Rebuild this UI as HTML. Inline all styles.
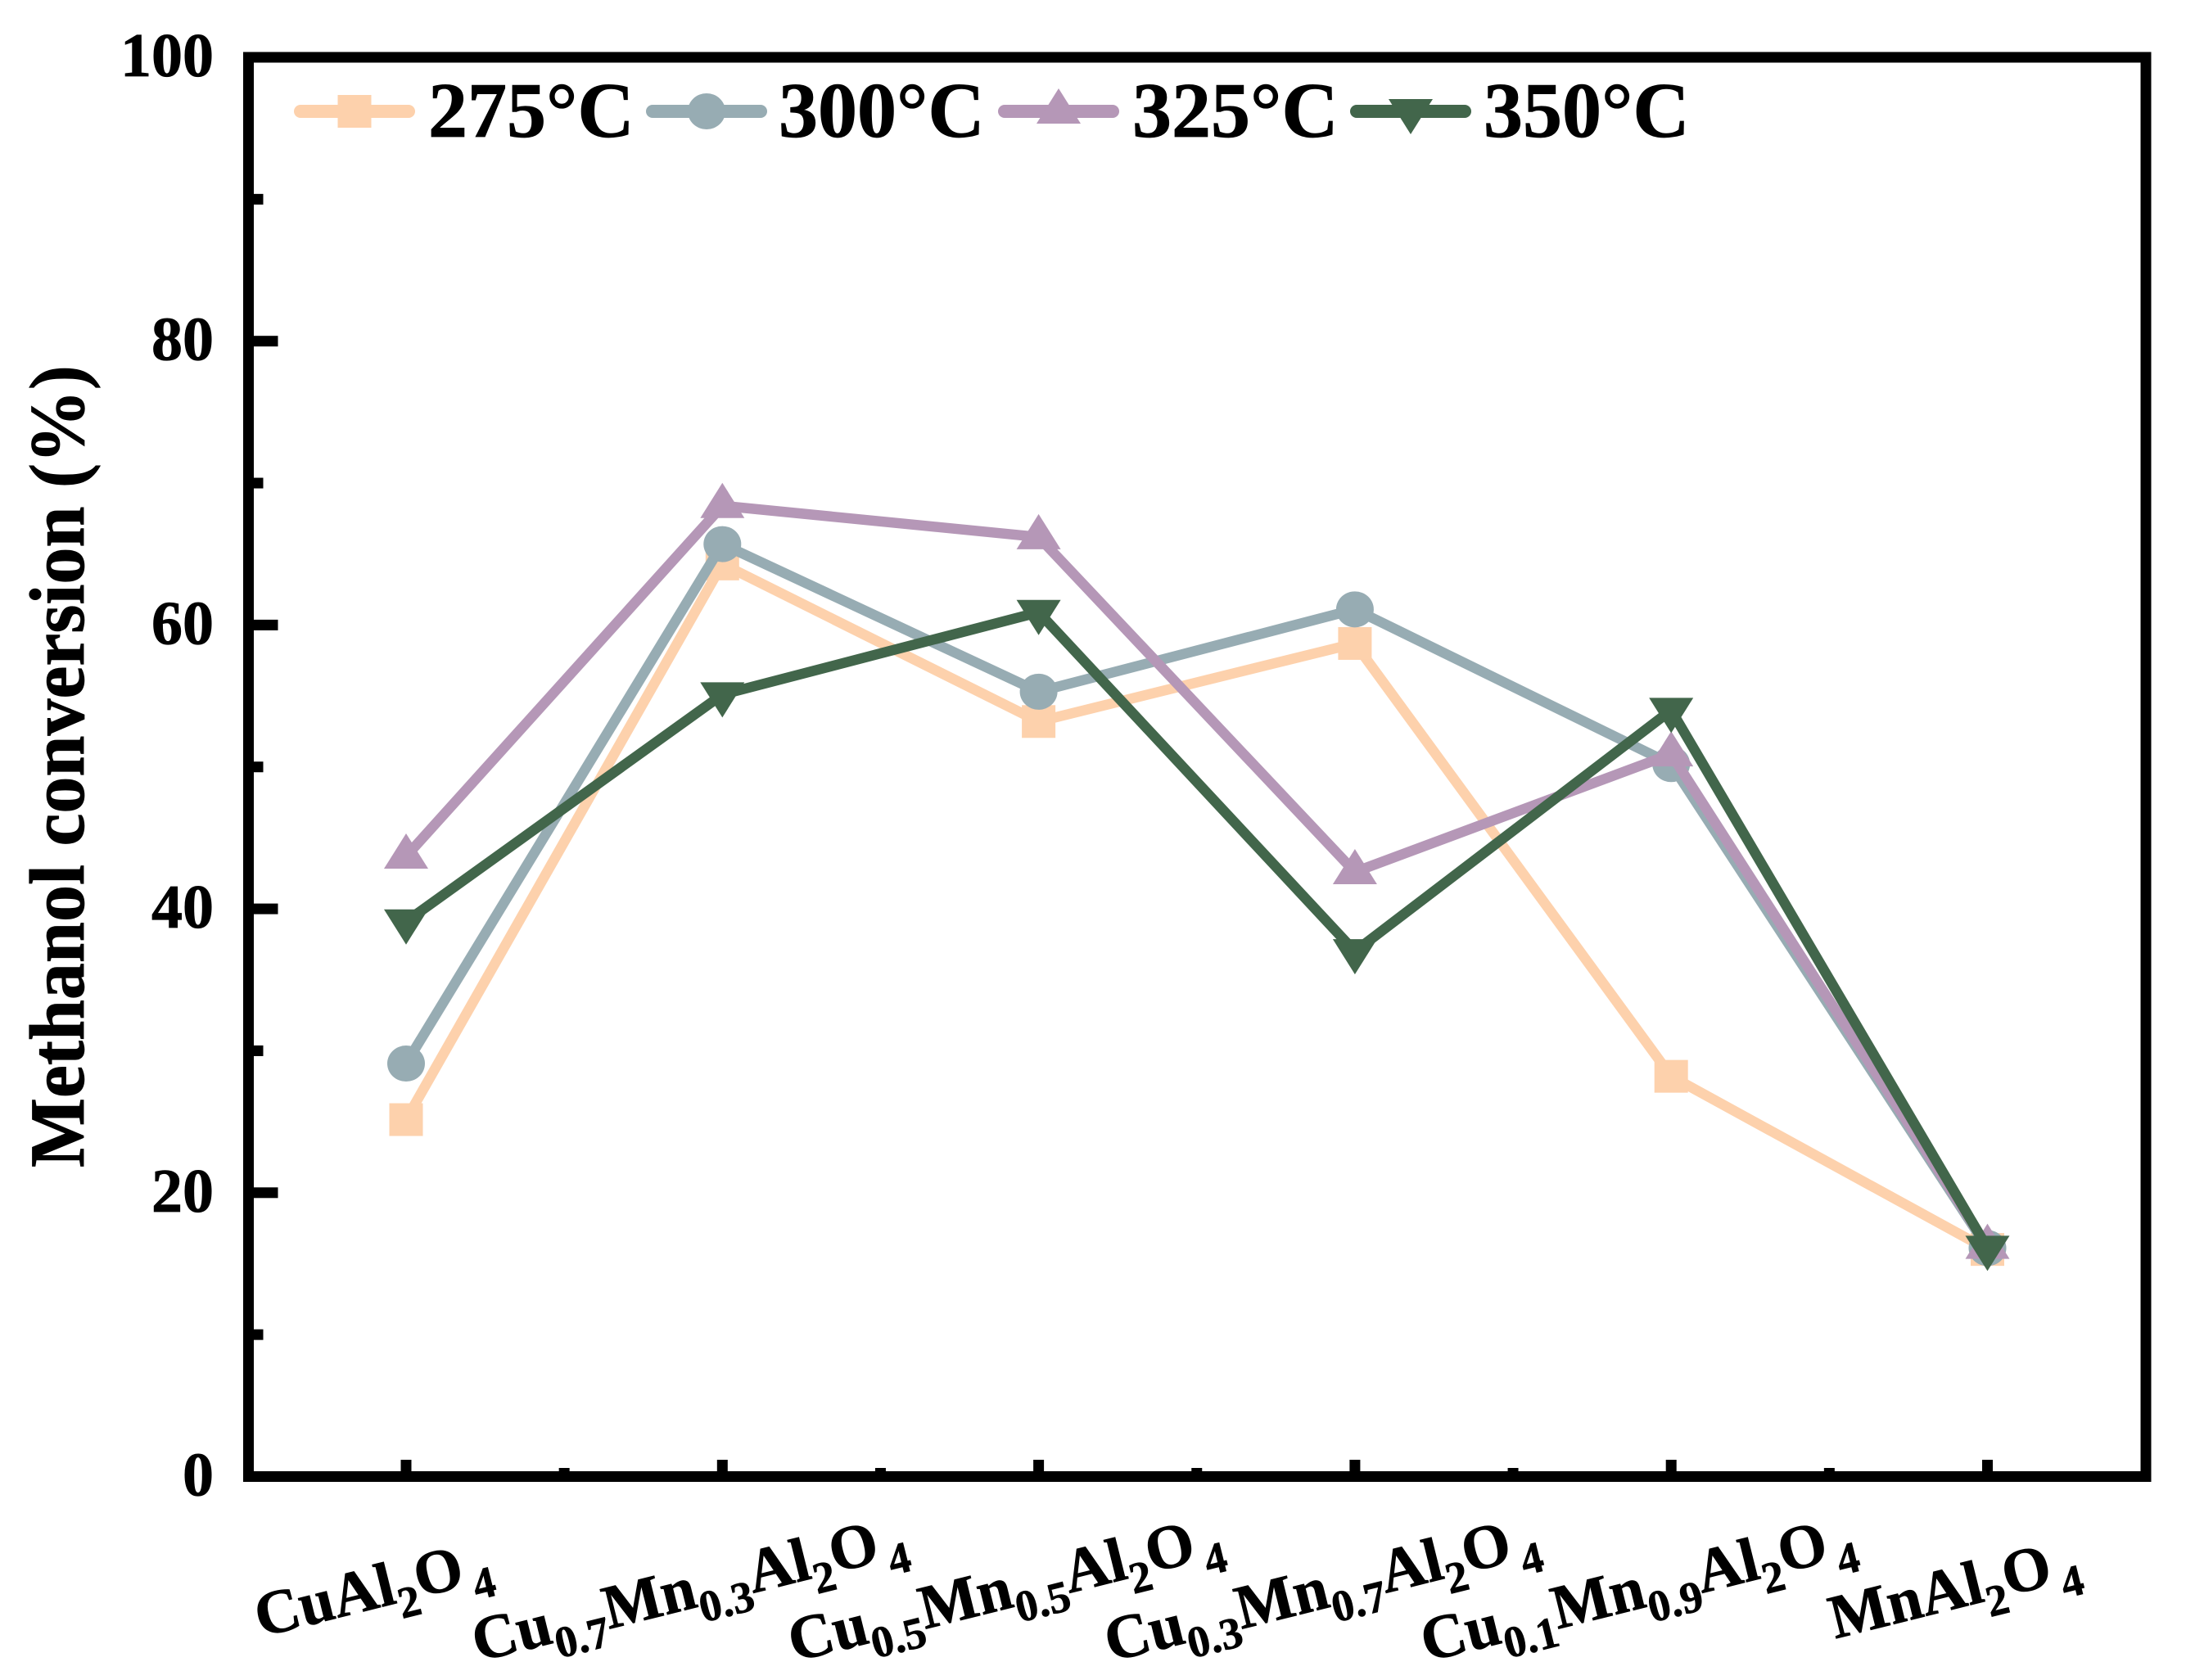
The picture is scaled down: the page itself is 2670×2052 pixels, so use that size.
<!DOCTYPE html>
<html lang="en">
<head>
<meta charset="utf-8">
<title>Methanol conversion chart</title>
<style>
html,body{margin:0;padding:0;background:#fff;}
svg{display:block;}
text{font-family:"Liberation Serif","Times New Roman",serif;font-weight:bold;fill:#000;stroke:#000;stroke-width:0.8px;text-rendering:geometricPrecision;}
</style>
</head>
<body>
<svg id="chart" xmlns="http://www.w3.org/2000/svg" width="2670" height="2052" viewBox="0 0 2670 2052">
<rect x="0" y="0" width="2670" height="2052" fill="#ffffff"/>
<g id="series-layer"></g>
<g id="axes-layer"></g>
<g id="legend-layer"></g>
<text transform="translate(102,1426) rotate(-90) scale(1,1.06)" font-size="90">Methanol conversion (%)</text>
</svg>
<script>
const categories = ["CuAl2O4", "Cu0.7Mn0.3Al2O4", "Cu0.5Mn0.5Al2O4", "Cu0.3Mn0.7Al2O4", "Cu0.1Mn0.9Al2O4", "MnAl2O4"];
const seriesNames = ["275°C", "300°C", "325°C", "350°C"];
const values275 = [25.15, 64.3, 53.2, 58.7, 28.2, 16.0];
const values300 = [29.1, 65.7, 55.3, 61.1, 50.2, 16.1];
const values325 = [43.7, 68.4, 66.2, 42.6, 50.9, 16.2];
const values350 = [39.1, 55.1, 60.9, 37.0, 54.0, 16.1];
const yMajorTicks = [0, 20, 40, 60, 80, 100];
const yMinorTicks = [10, 30, 50, 70, 90];

const NS = "http://www.w3.org/2000/svg";
const plot = {left: 303.5, right: 2621, top: 70, bottom: 1803.5};
const seriesValues = [values275, values300, values325, values350];
const seriesColors = ["#FDD1AC", "#97ACB3", "#B597B7", "#42664B"];
const seriesMarkers = ["square", "circle", "up", "down"];

function xScale(i) { return 496 + i * 386.3; }
function yScale(v) { return plot.bottom - (v / 100) * (plot.bottom - plot.top); }

function make(tag, attrs, parent) {
  const el = document.createElementNS(NS, tag);
  for (const k in attrs) el.setAttribute(k, attrs[k]);
  parent.appendChild(el);
  return el;
}

function drawMarker(kind, cx, cy, color, parent) {
  let el;
  if (kind === "square") {
    el = make("rect", {x: cx - 20.5, y: cy - 20, width: 41, height: 40, fill: color}, parent);
  } else if (kind === "circle") {
    el = make("ellipse", {cx: cx, cy: cy, rx: 23, ry: 22, fill: color}, parent);
  } else if (kind === "up") {
    el = make("polygon", {points: (cx - 27) + "," + (cy + 15) + " " + (cx + 27) + "," + (cy + 15) + " " + cx + "," + (cy - 28), fill: color}, parent);
  } else {
    el = make("polygon", {points: (cx - 27) + "," + (cy - 15) + " " + (cx + 27) + "," + (cy - 15) + " " + cx + "," + (cy + 28), fill: color}, parent);
  }
  return el;
}

const seriesLayer = document.getElementById("series-layer");
seriesValues.forEach(function (vals, s) {
  const g = make("g", {}, seriesLayer);
  
  
  const pts = vals.map(function (v, i) { return xScale(i) + "," + yScale(v); }).join(" ");
  const line = make("polyline", {points: pts, fill: "none", stroke: seriesColors[s], "stroke-width": 12.5, "stroke-linejoin": "round"}, g);
  
  
  vals.forEach(function (v, i) {
    const m = drawMarker(seriesMarkers[s], xScale(i), yScale(v), seriesColors[s], g);
    
    
  });
});

const axes = document.getElementById("axes-layer");
const frame = make("rect", {x: plot.left, y: plot.top, width: plot.right - plot.left, height: plot.bottom - plot.top, fill: "none", stroke: "#000", "stroke-width": 13}, axes);



yMajorTicks.forEach(function (v) {
  const y = yScale(v);
  if (v > 0 && v < 100) {
    const t = make("rect", {x: plot.left, y: y - 6.5, width: 36, height: 13, fill: "#000"}, axes);
    
    
  }
  const lab = make("text", {x: 261, y: y + 23, "font-size": 76, "text-anchor": "end"}, axes);
  lab.textContent = String(v);
  
  
});
yMinorTicks.forEach(function (v) {
  const t = make("rect", {x: plot.left, y: yScale(v) - 6.5, width: 18, height: 13, fill: "#000"}, axes);
  
  
});

categories.forEach(function (c, i) {
  const x = xScale(i);
  const t = make("rect", {x: x - 6.5, y: 1783, width: 13, height: 20, fill: "#000"}, axes);
  
  
  if (i < categories.length - 1) {
    const m = make("rect", {x: x + 193.15 - 6.5, y: 1793, width: 13, height: 10, fill: "#000"}, axes);
    
    
  }
  const lab = make("text", {"font-size": 76, "text-anchor": "middle", transform: "translate(" + (x - 35) + " 1964) rotate(-14)"}, axes);
  
  
  const parts = c.split(/([0-9.]+)/);
  let shift = 0;
  parts.forEach(function (p, k) {
    if (!p) return;
    const span = make("tspan", {}, lab);
    span.textContent = p;
    if (k % 2 === 1) {
      span.setAttribute("font-size", 54);
      span.setAttribute("dy", 20 - shift);
      shift = 20;
      if (k === parts.length - 2) span.setAttribute("dx", 8);
    } else {
      span.setAttribute("dy", 0 - shift);
      shift = 0;
    }
  });
});

const legend = document.getElementById("legend-layer");
const legendLineX = [360, 790, 1220, 1650];
const legendMarkX = [433, 863, 1293, 1723];
const legendTextX = [523, 951, 1383, 1812];
seriesNames.forEach(function (n, s) {
  const g = make("g", {}, legend);
  
  
  const l = make("line", {x1: legendLineX[s] + 7, x2: legendLineX[s] + 139, y1: 136, y2: 136, stroke: seriesColors[s], "stroke-width": 16, "stroke-linecap": "round"}, g);
  
  
  const m = drawMarker(seriesMarkers[s], legendMarkX[s], 136, seriesColors[s], g);
  
  
  const t = make("text", {x: legendTextX[s], y: 167, "font-size": 96}, g);
  t.textContent = n;
  
  
});
</script>
</body>
</html>
